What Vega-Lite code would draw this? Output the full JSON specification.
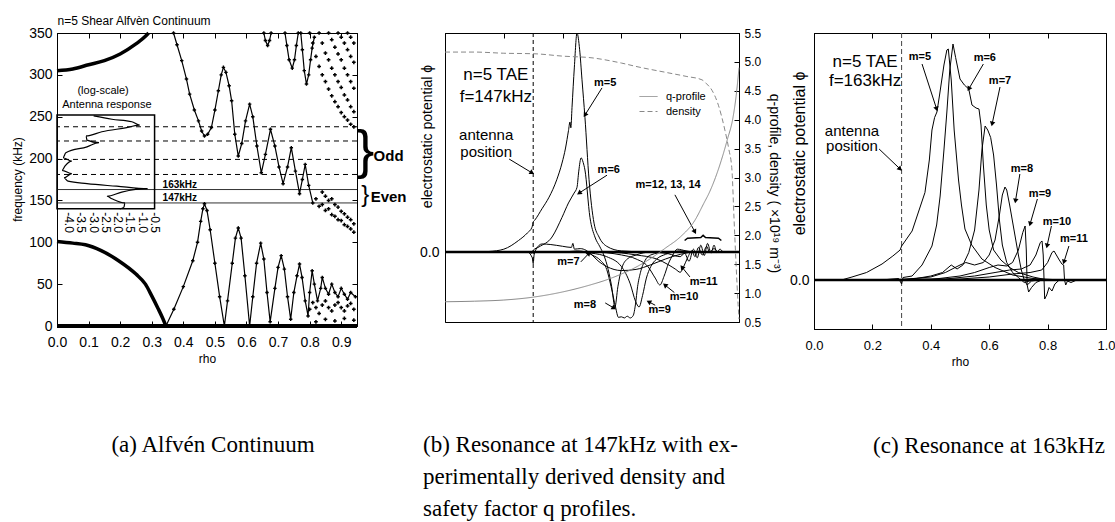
{
"$schema":"https://vega.github.io/schema/vega-lite/v6.json",
"background":"white",
"padding":{"left":10,"top":13,"right":5,"bottom":0},
"config":{
 "view":{"stroke":"black","strokeWidth":1},
 "axis":{"grid":false,"labelFlush":false,"domainColor":"black","domainWidth":1,"tickColor":"black","tickSize":-5,"labelColor":"black","titleColor":"black","labelFont":"Liberation Sans","titleFont":"Liberation Sans","titleFontWeight":"normal","labelFontSize":14,"titleFontSize":12},
 "text":{"font":"Liberation Sans","color":"black"},
 "title":{"font":"Liberation Serif","fontSize":23,"fontWeight":"normal","color":"black"}
},
"spacing":88,
"bounds":"flush",
"hconcat":[
{
 "width":300,"height":293,
 "title":{"text":"(a) Alfvén Continuum","orient":"bottom","anchor":"middle","frame":"group","dx":6,"offset":70},
 "resolve":{"axis":{"x":"independent","y":"independent"}},
 "layer":[
  {"data":{"values":[{"x":0,"y":0},{"x":0.95,"y":0}]},
   "mark":{"type":"line","color":"black","strokeWidth":4},
   "encoding":{
    "x":{"field":"x","type":"quantitative","scale":{"domain":[0,0.95],"nice":false,"zero":false},"axis":{"orient":"bottom","values":[0,0.1,0.2,0.3,0.4,0.5,0.6,0.7,0.8,0.9],"format":".1f","title":"rho","labelPadding":14,"titlePadding":4}},
    "y":{"field":"y","type":"quantitative","scale":{"domain":[0,350],"nice":false,"zero":false},"axis":{"orient":"left","values":[0,50,100,150,200,250,300,350],"title":"frequency (kHz)","labelPadding":10,"titleX":-33,"titleY":146}}}},
  {"data":{"values":[{"x":0,"y":0},{"x":0.95,"y":0}]},
   "mark":{"type":"line","opacity":0},
   "encoding":{
    "x":{"field":"x","type":"quantitative","axis":{"orient":"top","values":[0,0.1,0.2,0.3,0.4,0.5,0.6,0.7,0.8,0.9],"labels":false,"title":"n=5 Shear Alfvèn Continuum","titleX":0,"titleY":-6,"titleAnchor":"start","titleAlign":"left","titleBaseline":"bottom","titleFont":"'Liberation Sans Narrow', 'Liberation Sans'","titleFontSize":12}},
    "y":{"field":"y","type":"quantitative","axis":{"orient":"right","values":[0,50,100,150,200,250,300,350],"labels":false,"title":null}}}},
  {"data":{"values":[{"f":238},{"f":221},{"f":199},{"f":181}]},
   "mark":{"type":"rule","strokeDash":[5,4],"strokeWidth":1,"color":"black"},
   "encoding":{"y":{"field":"f","type":"quantitative","axis":null}}},
  {"data":{"values":[{"f":163},{"f":147}]},
   "mark":{"type":"rule","strokeWidth":1,"color":"#333"},
   "encoding":{"y":{"field":"f","type":"quantitative","axis":null}}},
  {"data":{"values":[{"x0":0,"x1":0.309,"y0":140,"y1":252}]},
   "mark":{"type":"rect","fillOpacity":0,"stroke":"black","strokeWidth":1.5},
   "encoding":{"x":{"field":"x0","type":"quantitative","axis":null},"x2":{"field":"x1"},"y":{"field":"y0","type":"quantitative","axis":null},"y2":{"field":"y1"}}},
  {"data":{"values":[
    {"i":1,"x":0.116,"y":251},{"i":2,"x":0.174,"y":247},{"i":3,"x":0.237,"y":244},{"i":4,"x":0.262,"y":240},{"i":5,"x":0.221,"y":237},{"i":6,"x":0.142,"y":232},{"i":7,"x":0.092,"y":227},{"i":8,"x":0.095,"y":222},{"i":9,"x":0.133,"y":219},{"i":10,"x":0.095,"y":214},{"i":11,"x":0.028,"y":207},{"i":12,"x":0.019,"y":201},{"i":13,"x":0.047,"y":197},{"i":14,"x":0.025,"y":191},{"i":15,"x":0.016,"y":186},{"i":16,"x":0.047,"y":182},{"i":17,"x":0.022,"y":177},{"i":18,"x":0.035,"y":173},{"i":19,"x":0.095,"y":170},{"i":20,"x":0.189,"y":167},{"i":21,"x":0.287,"y":164},{"i":22,"x":0.205,"y":160},{"i":23,"x":0.158,"y":155},{"i":24,"x":0.174,"y":152},{"i":25,"x":0.215,"y":147},{"i":26,"x":0.212,"y":142},{"i":27,"x":0.199,"y":140}]},
   "mark":{"type":"line","color":"black","strokeWidth":1.2,"interpolate":"monotone"},
   "encoding":{"x":{"field":"x","type":"quantitative","axis":null},"y":{"field":"y","type":"quantitative","axis":null},"order":{"field":"i","type":"quantitative"}}},
  {"data":{"values":[{"x":0.0387,"y":136,"t":"-4.0"},{"x":0.0774,"y":136,"t":"-3.5"},{"x":0.116,"y":136,"t":"-3.0"},{"x":0.155,"y":136,"t":"-2.5"},{"x":0.193,"y":136,"t":"-2.0"},{"x":0.232,"y":136,"t":"-1.5"},{"x":0.271,"y":136,"t":"-1.0"},{"x":0.309,"y":136,"t":"-0.5"}]},
   "mark":{"type":"text","angle":90,"align":"left","baseline":"middle","fontSize":12,"font":"'Liberation Sans Narrow', 'Liberation Sans'"},
   "encoding":{"x":{"field":"x","type":"quantitative","axis":null},"y":{"field":"y","type":"quantitative","axis":null},"text":{"field":"t"}}},
  {"data":{"values":[{"x":0.146,"y":281,"t":"(log-scale)"},{"x":0.158,"y":264,"t":"Antenna response"}]},
   "mark":{"type":"text","fontSize":11,"font":"'Liberation Sans Narrow', 'Liberation Sans'"},
   "encoding":{"x":{"field":"x","type":"quantitative","axis":null},"y":{"field":"y","type":"quantitative","axis":null},"text":{"field":"t"}}},
  {"data":{"values":[
    {"s":"A1","x":0,"y":101},{"s":"A1","x":0.05,"y":99},{"s":"A1","x":0.09,"y":97},{"s":"A1","x":0.14,"y":90},{"s":"A1","x":0.195,"y":78},{"s":"A1","x":0.25,"y":62},{"s":"A1","x":0.28,"y":50},{"s":"A1","x":0.3,"y":36},{"s":"A1","x":0.32,"y":21},{"s":"A1","x":0.335,"y":9},{"s":"A1","x":0.345,"y":0},
    {"s":"A2","x":0,"y":305},{"s":"A2","x":0.05,"y":307},{"s":"A2","x":0.1,"y":312},{"s":"A2","x":0.15,"y":317},{"s":"A2","x":0.2,"y":325},{"s":"A2","x":0.25,"y":337},{"s":"A2","x":0.28,"y":346},{"s":"A2","x":0.29,"y":350}]},
   "mark":{"type":"line","color":"black","strokeWidth":3.5,"interpolate":"monotone"},
   "encoding":{"x":{"field":"x","type":"quantitative","axis":null},"y":{"field":"y","type":"quantitative","axis":null},"detail":{"field":"s"}}},
  {"data":{"values":[
    {"s":"A3","x":0.369,"y":350},{"s":"A3","x":0.38,"y":336},{"s":"A3","x":0.395,"y":317},{"s":"A3","x":0.41,"y":295},{"s":"A3","x":0.42,"y":277},{"s":"A3","x":0.435,"y":258},{"s":"A3","x":0.448,"y":245},{"s":"A3","x":0.458,"y":233},{"s":"A3","x":0.467,"y":227},{"s":"A3","x":0.477,"y":229},{"s":"A3","x":0.489,"y":237},{"s":"A3","x":0.5,"y":258},{"s":"A3","x":0.511,"y":281},{"s":"A3","x":0.52,"y":300},{"s":"A3","x":0.527,"y":309},{"s":"A3","x":0.535,"y":303},{"s":"A3","x":0.545,"y":287},{"s":"A3","x":0.553,"y":269},{"s":"A3","x":0.563,"y":229},{"s":"A3","x":0.574,"y":203},{"s":"A3","x":0.585,"y":218},{"s":"A3","x":0.597,"y":245},{"s":"A3","x":0.61,"y":265},{"s":"A3","x":0.62,"y":250},{"s":"A3","x":0.633,"y":215},{"s":"A3","x":0.647,"y":183},{"s":"A3","x":0.66,"y":205},{"s":"A3","x":0.676,"y":235},{"s":"A3","x":0.69,"y":215},{"s":"A3","x":0.703,"y":190},{"s":"A3","x":0.716,"y":170},{"s":"A3","x":0.73,"y":190},{"s":"A3","x":0.742,"y":213},{"s":"A3","x":0.755,"y":185},{"s":"A3","x":0.768,"y":158},{"s":"A3","x":0.777,"y":175},{"s":"A3","x":0.786,"y":193},{"s":"A3","x":0.797,"y":168},{"s":"A3","x":0.81,"y":147},
    {"s":"A4","x":0.345,"y":0},{"s":"A4","x":0.37,"y":20},{"s":"A4","x":0.4,"y":47},{"s":"A4","x":0.43,"y":78},{"s":"A4","x":0.445,"y":100},{"s":"A4","x":0.455,"y":125},{"s":"A4","x":0.462,"y":140},{"s":"A4","x":0.467,"y":146},{"s":"A4","x":0.475,"y":138},{"s":"A4","x":0.485,"y":115},{"s":"A4","x":0.5,"y":75},{"s":"A4","x":0.515,"y":35},{"s":"A4","x":0.53,"y":0},{"s":"A4","x":0.54,"y":30},{"s":"A4","x":0.555,"y":75},{"s":"A4","x":0.565,"y":105},{"s":"A4","x":0.574,"y":117},{"s":"A4","x":0.583,"y":105},{"s":"A4","x":0.595,"y":60},{"s":"A4","x":0.61,"y":0},{"s":"A4","x":0.62,"y":35},{"s":"A4","x":0.632,"y":75},{"s":"A4","x":0.645,"y":99},{"s":"A4","x":0.655,"y":80},{"s":"A4","x":0.665,"y":40},{"s":"A4","x":0.675,"y":5},{"s":"A4","x":0.69,"y":45},{"s":"A4","x":0.7,"y":70},{"s":"A4","x":0.71,"y":84},{"s":"A4","x":0.72,"y":68},{"s":"A4","x":0.73,"y":35},{"s":"A4","x":0.74,"y":8},{"s":"A4","x":0.75,"y":40},{"s":"A4","x":0.76,"y":60},{"s":"A4","x":0.768,"y":74},{"s":"A4","x":0.776,"y":58},{"s":"A4","x":0.786,"y":30},{"s":"A4","x":0.795,"y":12},{"s":"A4","x":0.8,"y":40},{"s":"A4","x":0.808,"y":66},{"s":"A4","x":0.815,"y":50},{"s":"A4","x":0.825,"y":30},{"s":"A4","x":0.835,"y":45},{"s":"A4","x":0.84,"y":58},{"s":"A4","x":0.85,"y":45},{"s":"A4","x":0.86,"y":38},{"s":"A4","x":0.87,"y":50},{"s":"A4","x":0.88,"y":40},{"s":"A4","x":0.89,"y":35},{"s":"A4","x":0.9,"y":45},{"s":"A4","x":0.91,"y":38},{"s":"A4","x":0.92,"y":32},{"s":"A4","x":0.93,"y":40},{"s":"A4","x":0.945,"y":35},
    {"s":"U1","x":0.655,"y":350},{"s":"U1","x":0.66,"y":341},{"s":"U1","x":0.667,"y":335},{"s":"U1","x":0.673,"y":341},{"s":"U1","x":0.678,"y":350},
    {"s":"U2","x":0.722,"y":350},{"s":"U2","x":0.728,"y":335},{"s":"U2","x":0.735,"y":318},{"s":"U2","x":0.745,"y":308},{"s":"U2","x":0.752,"y":318},{"s":"U2","x":0.758,"y":335},{"s":"U2","x":0.764,"y":350},
    {"s":"U3","x":0.772,"y":350},{"s":"U3","x":0.777,"y":330},{"s":"U3","x":0.783,"y":305},{"s":"U3","x":0.79,"y":289},{"s":"U3","x":0.797,"y":300},{"s":"U3","x":0.803,"y":318},{"s":"U3","x":0.808,"y":332},{"s":"U3","x":0.815,"y":345}]},
   "mark":{"type":"line","color":"black","strokeWidth":1.2,"point":{"shape":"cross","size":12,"filled":true,"color":"black"}},
   "encoding":{"x":{"field":"x","type":"quantitative","axis":null},"y":{"field":"y","type":"quantitative","axis":null},"detail":{"field":"s"}}},
  {"data":{"values":[
    {"x":0.8,"y":350},{"x":0.81,"y":338},{"x":0.82,"y":322},{"x":0.83,"y":310},{"x":0.84,"y":300},{"x":0.85,"y":292},{"x":0.86,"y":283},{"x":0.87,"y":275},{"x":0.88,"y":268},{"x":0.89,"y":262},{"x":0.9,"y":255},{"x":0.91,"y":250},{"x":0.92,"y":246},{"x":0.93,"y":241},{"x":0.94,"y":238},
    {"x":0.83,"y":350},{"x":0.84,"y":338},{"x":0.85,"y":326},{"x":0.86,"y":318},{"x":0.87,"y":308},{"x":0.88,"y":300},{"x":0.89,"y":292},{"x":0.9,"y":285},{"x":0.91,"y":276},{"x":0.92,"y":270},{"x":0.93,"y":262},{"x":0.94,"y":256},
    {"x":0.86,"y":350},{"x":0.87,"y":342},{"x":0.88,"y":333},{"x":0.89,"y":325},{"x":0.9,"y":318},{"x":0.91,"y":308},{"x":0.92,"y":300},{"x":0.93,"y":292},{"x":0.94,"y":284},
    {"x":0.89,"y":350},{"x":0.9,"y":345},{"x":0.91,"y":338},{"x":0.92,"y":330},{"x":0.93,"y":322},{"x":0.94,"y":315},
    {"x":0.92,"y":350},{"x":0.93,"y":345},{"x":0.94,"y":338},
    {"x":0.82,"y":152},{"x":0.83,"y":143},{"x":0.84,"y":145},{"x":0.85,"y":138},{"x":0.86,"y":140},{"x":0.87,"y":133},{"x":0.88,"y":131},{"x":0.89,"y":127},{"x":0.9,"y":126},{"x":0.91,"y":121},{"x":0.92,"y":119},{"x":0.93,"y":116},{"x":0.94,"y":112},
    {"x":0.84,"y":160},{"x":0.85,"y":155},{"x":0.86,"y":150},{"x":0.87,"y":152},{"x":0.88,"y":145},{"x":0.89,"y":142},{"x":0.9,"y":137},{"x":0.91,"y":134},{"x":0.92,"y":130},{"x":0.93,"y":127},{"x":0.94,"y":122},
    {"x":0.8,"y":20},{"x":0.81,"y":28},{"x":0.82,"y":22},{"x":0.83,"y":15},{"x":0.84,"y":25},{"x":0.85,"y":30},{"x":0.86,"y":22},{"x":0.87,"y":18},{"x":0.88,"y":25},{"x":0.89,"y":28},{"x":0.9,"y":22},{"x":0.91,"y":18},{"x":0.92,"y":24},{"x":0.93,"y":27},{"x":0.94,"y":20},
    {"x":0.82,"y":5},{"x":0.85,"y":8},{"x":0.88,"y":6},{"x":0.91,"y":9},{"x":0.94,"y":7}]},
   "mark":{"type":"point","shape":"cross","size":14,"filled":true,"color":"black","opacity":1},
   "encoding":{"x":{"field":"x","type":"quantitative","axis":null},"y":{"field":"y","type":"quantitative","axis":null}}},
  {"data":{"values":[{"x":0.389,"y":168.5,"t":"163kHz"},{"x":0.389,"y":153,"t":"147kHz"}]},
   "mark":{"type":"text","fontSize":10,"fontWeight":"bold"},
   "encoding":{"x":{"field":"x","type":"quantitative","axis":null},"y":{"field":"y","type":"quantitative","axis":null},"text":{"field":"t"}}},
  {"data":{"values":[{"x":1.05,"y":203,"t":"Odd"},{"x":1.05,"y":154,"t":"Even"}]},
   "mark":{"type":"text","fontSize":15,"fontWeight":"bold"},
   "encoding":{"x":{"field":"x","type":"quantitative","axis":null},"y":{"field":"y","type":"quantitative","axis":null},"text":{"field":"t"}}},
  {"data":{"values":[{"x":0.976,"y":208,"t":"}"}]},
   "mark":{"type":"text","fontSize":54,"baseline":"middle","font":"Liberation Sans"},
   "encoding":{"x":{"field":"x","type":"quantitative","axis":null},"y":{"field":"y","type":"quantitative","axis":null},"text":{"field":"t"}}},
  {"data":{"values":[{"x":0.976,"y":156,"t":"}"}]},
   "mark":{"type":"text","fontSize":24,"baseline":"middle","font":"Liberation Sans"},
   "encoding":{"x":{"field":"x","type":"quantitative","axis":null},"y":{"field":"y","type":"quantitative","axis":null},"text":{"field":"t"}}}
 ]
},
{
 "spacing":75,
 "bounds":"flush",
 "hconcat":[
 {
  "width":294,"height":289,
  "title":{"text":["(b) Resonance at 147kHz with ex-","perimentally derived density and","safety factor q profiles."],"orient":"bottom","anchor":"start","frame":"group","dx":-22,"offset":106,"lineHeight":32},
  "resolve":{"scale":{"y":"independent"},"axis":{"x":"independent","y":"independent"}},
  "layer":[
   {"resolve":{"axis":{"y":"independent"}},
    "layer":[
    {"data":{"values":[{"x":0,"y":0},{"x":1,"y":0}]},
     "mark":{"type":"line","color":"black","strokeWidth":2.5},
     "encoding":{
      "x":{"field":"x","type":"quantitative","scale":{"domain":[0,1],"nice":false,"zero":false},"axis":{"orient":"bottom","values":[0,0.2,0.4,0.6,0.8,1],"format":".1f","title":"rho","labelPadding":20,"labelFontSize":13,"titlePadding":14}},
      "y":{"field":"y","type":"quantitative","scale":{"domain":[-1.21,3.79],"nice":false,"zero":false},"axis":{"orient":"left","values":[0],"format":".1f","title":"electrostatic potential ϕ","labelPadding":11,"labelFontSize":14,"titleFontSize":14,"titleX":-11,"titleY":103}}}},
    {"data":{"values":[{"x":0.3}]},
     "mark":{"type":"rule","strokeDash":[4,3],"strokeWidth":1,"color":"black"},
     "encoding":{"x":{"field":"x","type":"quantitative","axis":null}}},
    {"data":{"values":[
      {"m":"5","x":0,"y":0},{"m":"5","x":0.1,"y":0},{"m":"5","x":0.15,"y":0.01},{"m":"5","x":0.2,"y":0.05},{"m":"5","x":0.25,"y":0.2},{"m":"5","x":0.28,"y":0.33},{"m":"5","x":0.296,"y":0.43},{"m":"5","x":0.3,"y":0.52},{"m":"5","x":0.305,"y":0.55},{"m":"5","x":0.33,"y":0.75},{"m":"5","x":0.354,"y":0.95},{"m":"5","x":0.38,"y":1.25},{"m":"5","x":0.398,"y":1.54},{"m":"5","x":0.41,"y":1.8},{"m":"5","x":0.42,"y":2.1},{"m":"5","x":0.425,"y":2.25},{"m":"5","x":0.428,"y":2.15},{"m":"5","x":0.432,"y":2.5},{"m":"5","x":0.44,"y":3.2},{"m":"5","x":0.449,"y":3.79},{"m":"5","x":0.458,"y":3.5},{"m":"5","x":0.466,"y":2.98},{"m":"5","x":0.476,"y":2.33},{"m":"5","x":0.49,"y":1.25},{"m":"5","x":0.507,"y":0.5},{"m":"5","x":0.524,"y":0.26},{"m":"5","x":0.55,"y":0.1},{"m":"5","x":0.6,"y":0.02},{"m":"5","x":0.7,"y":0},{"m":"5","x":0.95,"y":0},
      {"m":"6","x":0,"y":0},{"m":"6","x":0.28,"y":0},{"m":"6","x":0.295,"y":-0.02},{"m":"6","x":0.3,"y":0.03},{"m":"6","x":0.32,"y":0.09},{"m":"6","x":0.364,"y":0.26},{"m":"6","x":0.398,"y":0.6},{"m":"6","x":0.42,"y":0.85},{"m":"6","x":0.439,"y":1.02},{"m":"6","x":0.449,"y":1.12},{"m":"6","x":0.455,"y":1.4},{"m":"6","x":0.463,"y":1.63},{"m":"6","x":0.47,"y":1.55},{"m":"6","x":0.476,"y":1.42},{"m":"6","x":0.493,"y":0.6},{"m":"6","x":0.51,"y":0.26},{"m":"6","x":0.527,"y":0.09},{"m":"6","x":0.54,"y":-0.05},{"m":"6","x":0.555,"y":-0.3},{"m":"6","x":0.567,"y":-0.6},{"m":"6","x":0.578,"y":-0.95},{"m":"6","x":0.588,"y":-0.6},{"m":"6","x":0.6,"y":-0.3},{"m":"6","x":0.62,"y":-0.12},{"m":"6","x":0.65,"y":-0.05},{"m":"6","x":0.7,"y":0},{"m":"6","x":0.95,"y":0},
      {"m":"7","x":0,"y":0},{"m":"7","x":0.28,"y":0},{"m":"7","x":0.297,"y":-0.1},{"m":"7","x":0.3,"y":-0.2},{"m":"7","x":0.303,"y":-0.05},{"m":"7","x":0.31,"y":0.05},{"m":"7","x":0.33,"y":0.14},{"m":"7","x":0.36,"y":0.13},{"m":"7","x":0.4,"y":0.1},{"m":"7","x":0.43,"y":0.08},{"m":"7","x":0.435,"y":0.15},{"m":"7","x":0.44,"y":0.05},{"m":"7","x":0.46,"y":0.06},{"m":"7","x":0.48,"y":0.03},{"m":"7","x":0.5,"y":-0.05},{"m":"7","x":0.52,"y":-0.15},{"m":"7","x":0.55,"y":-0.25},{"m":"7","x":0.6,"y":-0.32},{"m":"7","x":0.65,"y":-0.3},{"m":"7","x":0.7,"y":-0.22},{"m":"7","x":0.75,"y":-0.12},{"m":"7","x":0.8,"y":-0.04},{"m":"7","x":0.85,"y":0},{"m":"7","x":0.95,"y":0},
      {"m":"8","x":0,"y":0},{"m":"8","x":0.4,"y":0},{"m":"8","x":0.45,"y":0.02},{"m":"8","x":0.48,"y":0},{"m":"8","x":0.5,"y":-0.05},{"m":"8","x":0.53,"y":-0.15},{"m":"8","x":0.55,"y":-0.3},{"m":"8","x":0.565,"y":-0.6},{"m":"8","x":0.58,"y":-0.95},{"m":"8","x":0.59,"y":-1.13},{"m":"8","x":0.6,"y":-1.12},{"m":"8","x":0.61,"y":-1.14},{"m":"8","x":0.62,"y":-1.11},{"m":"8","x":0.63,"y":-1.14},{"m":"8","x":0.64,"y":-1.1},{"m":"8","x":0.648,"y":-0.9},{"m":"8","x":0.655,"y":-0.6},{"m":"8","x":0.665,"y":-0.35},{"m":"8","x":0.68,"y":-0.15},{"m":"8","x":0.7,"y":-0.05},{"m":"8","x":0.75,"y":0},{"m":"8","x":0.95,"y":0},
      {"m":"9","x":0,"y":0},{"m":"9","x":0.45,"y":0},{"m":"9","x":0.5,"y":-0.02},{"m":"9","x":0.55,"y":-0.08},{"m":"9","x":0.6,"y":-0.25},{"m":"9","x":0.63,"y":-0.55},{"m":"9","x":0.648,"y":-0.85},{"m":"9","x":0.66,"y":-0.95},{"m":"9","x":0.672,"y":-0.75},{"m":"9","x":0.685,"y":-0.45},{"m":"9","x":0.7,"y":-0.25},{"m":"9","x":0.72,"y":-0.12},{"m":"9","x":0.75,"y":-0.04},{"m":"9","x":0.8,"y":0.02},{"m":"9","x":0.85,"y":0},{"m":"9","x":0.95,"y":0},
      {"m":"10","x":0,"y":0},{"m":"10","x":0.5,"y":0},{"m":"10","x":0.6,"y":-0.05},{"m":"10","x":0.65,"y":-0.12},{"m":"10","x":0.69,"y":-0.25},{"m":"10","x":0.715,"y":-0.45},{"m":"10","x":0.731,"y":-0.57},{"m":"10","x":0.745,"y":-0.42},{"m":"10","x":0.76,"y":-0.2},{"m":"10","x":0.775,"y":-0.05},{"m":"10","x":0.79,"y":0.05},{"m":"10","x":0.82,"y":0.02},{"m":"10","x":0.85,"y":0},{"m":"10","x":0.95,"y":0},
      {"m":"11","x":0,"y":0},{"m":"11","x":0.55,"y":0},{"m":"11","x":0.65,"y":-0.05},{"m":"11","x":0.72,"y":-0.12},{"m":"11","x":0.76,"y":-0.22},{"m":"11","x":0.785,"y":-0.3},{"m":"11","x":0.8,"y":-0.35},{"m":"11","x":0.812,"y":-0.25},{"m":"11","x":0.825,"y":-0.1},{"m":"11","x":0.84,"y":0.02},{"m":"11","x":0.85,"y":-0.08},{"m":"11","x":0.862,"y":0.08},{"m":"11","x":0.875,"y":-0.05},{"m":"11","x":0.89,"y":0.1},{"m":"11","x":0.9,"y":0},{"m":"11","x":0.915,"y":0.06},{"m":"11","x":0.93,"y":0},{"m":"11","x":0.95,"y":0},
      {"m":"12","x":0.7,"y":0},{"m":"12","x":0.76,"y":-0.03},{"m":"12","x":0.8,"y":-0.08},{"m":"12","x":0.815,"y":-0.02},{"m":"12","x":0.83,"y":-0.16},{"m":"12","x":0.845,"y":0.05},{"m":"12","x":0.858,"y":-0.1},{"m":"12","x":0.87,"y":0.12},{"m":"12","x":0.882,"y":-0.06},{"m":"12","x":0.893,"y":0.15},{"m":"12","x":0.905,"y":-0.02},{"m":"12","x":0.915,"y":0.12},{"m":"12","x":0.925,"y":-0.01},{"m":"12","x":0.935,"y":0.05},{"m":"12","x":0.945,"y":0}]},
     "mark":{"type":"line","color":"black","strokeWidth":1,"interpolate":"monotone"},
     "encoding":{"x":{"field":"x","type":"quantitative","axis":null},"y":{"field":"y","type":"quantitative","axis":null},"detail":{"field":"m"}}},
    {"data":{"values":[{"x":0.815,"y":0.2},{"x":0.825,"y":0.24},{"x":0.87,"y":0.25},{"x":0.878,"y":0.29},{"x":0.886,"y":0.25},{"x":0.93,"y":0.24},{"x":0.94,"y":0.2}]},
     "mark":{"type":"line","color":"black","strokeWidth":1.5},
     "encoding":{"x":{"field":"x","type":"quantitative","axis":null},"y":{"field":"y","type":"quantitative","axis":null}}},
    {"data":{"values":[{"x":0.173,"y":3.06,"t":"n=5 TAE"},{"x":0.173,"y":2.68,"t":"f=147kHz"}]},
     "mark":{"type":"text","fontSize":17},
     "encoding":{"x":{"field":"x","type":"quantitative","axis":null},"y":{"field":"y","type":"quantitative","axis":null},"text":{"field":"t"}}},
    {"data":{"values":[{"x":0.14,"y":2.02,"t":"antenna"},{"x":0.14,"y":1.73,"t":"position"}]},
     "mark":{"type":"text","fontSize":15},
     "encoding":{"x":{"field":"x","type":"quantitative","axis":null},"y":{"field":"y","type":"quantitative","axis":null},"text":{"field":"t"}}},
    {"data":{"values":[{"x":0.545,"y":2.92,"t":"m=5"},{"x":0.557,"y":1.42,"t":"m=6"},{"x":0.42,"y":-0.17,"t":"m=7"},{"x":0.476,"y":-0.92,"t":"m=8"},{"x":0.73,"y":-1.0,"t":"m=9"},{"x":0.813,"y":-0.78,"t":"m=10"},{"x":0.88,"y":-0.52,"t":"m=11"},{"x":0.759,"y":1.16,"t":"m=12, 13, 14"}]},
     "mark":{"type":"text","fontSize":11,"fontWeight":"bold"},
     "encoding":{"x":{"field":"x","type":"quantitative","axis":null},"y":{"field":"y","type":"quantitative","axis":null},"text":{"field":"t"}}},
    {"data":{"values":[{"x0":0.218,"y0":1.61,"x1":0.296,"y1":1.37,"ang":121},{"x0":0.534,"y0":2.84,"x1":0.476,"y1":2.37,"ang":-148},{"x0":0.551,"y0":1.33,"x1":0.456,"y1":1.02,"ang":-123},{"x0":0.462,"y0":-0.17,"x1":0.49,"y1":-0.02,"ang":46},{"x0":0.545,"y0":-0.88,"x1":0.575,"y1":-0.97,"ang":121},{"x0":0.715,"y0":-0.92,"x1":0.693,"y1":-0.86,"ang":-62},{"x0":0.78,"y0":-0.7,"x1":0.748,"y1":-0.57,"ang":-51},{"x0":0.833,"y0":-0.43,"x1":0.806,"y1":-0.26,"ang":-39},{"x0":0.782,"y0":0.99,"x1":0.85,"y1":0.35,"ang":152}]},
     "layer":[
      {"mark":{"type":"rule","color":"black","strokeWidth":1},
       "encoding":{"x":{"field":"x0","type":"quantitative","axis":null},"y":{"field":"y0","type":"quantitative","axis":null},"x2":{"field":"x1"},"y2":{"field":"y1"}}},
      {"mark":{"type":"point","shape":"triangle-up","size":30,"filled":true,"color":"black","opacity":1},
       "encoding":{"x":{"field":"x1","type":"quantitative","axis":null},"y":{"field":"y1","type":"quantitative","axis":null},"angle":{"field":"ang","type":"quantitative","scale":null}}}
     ]}
   ]},
   {"data":{"values":[
     {"series":"q-profile","x":0,"y":0.85},{"series":"q-profile","x":0.1,"y":0.86},{"series":"q-profile","x":0.2,"y":0.88},{"series":"q-profile","x":0.3,"y":0.93},{"series":"q-profile","x":0.4,"y":1.02},{"series":"q-profile","x":0.5,"y":1.15},{"series":"q-profile","x":0.55,"y":1.23},{"series":"q-profile","x":0.6,"y":1.33},{"series":"q-profile","x":0.65,"y":1.45},{"series":"q-profile","x":0.7,"y":1.6},{"series":"q-profile","x":0.75,"y":1.78},{"series":"q-profile","x":0.8,"y":1.97},{"series":"q-profile","x":0.85,"y":2.26},{"series":"q-profile","x":0.88,"y":2.55},{"series":"q-profile","x":0.9,"y":2.75},{"series":"q-profile","x":0.92,"y":3.0},{"series":"q-profile","x":0.94,"y":3.3},{"series":"q-profile","x":0.96,"y":3.65},{"series":"q-profile","x":0.98,"y":4.05},{"series":"q-profile","x":0.99,"y":4.4},{"series":"q-profile","x":1.0,"y":4.9},
     {"series":"density","x":0,"y":5.17},{"series":"density","x":0.1,"y":5.17},{"series":"density","x":0.2,"y":5.15},{"series":"density","x":0.306,"y":5.14},{"series":"density","x":0.4,"y":5.1},{"series":"density","x":0.5,"y":5.07},{"series":"density","x":0.6,"y":4.98},{"series":"density","x":0.66,"y":4.91},{"series":"density","x":0.75,"y":4.82},{"series":"density","x":0.82,"y":4.75},{"series":"density","x":0.874,"y":4.69},{"series":"density","x":0.89,"y":4.62},{"series":"density","x":0.908,"y":4.51},{"series":"density","x":0.93,"y":4.25},{"series":"density","x":0.952,"y":3.82},{"series":"density","x":0.965,"y":3.5},{"series":"density","x":0.976,"y":3.13},{"series":"density","x":0.983,"y":2.3},{"series":"density","x":0.99,"y":1.5},{"series":"density","x":0.997,"y":0.8},{"series":"density","x":1.0,"y":0.55}]},
    "mark":{"type":"line","color":"#888","strokeWidth":1,"interpolate":"monotone"},
    "encoding":{
     "x":{"field":"x","type":"quantitative","axis":{"orient":"top","values":[0,0.2,0.4,0.6,0.8,1],"labels":false,"title":null}},
     "y":{"field":"y","type":"quantitative","scale":{"domain":[0.5,5.5],"nice":false,"zero":false},"axis":{"orient":"right","values":[0.5,1,1.5,2,2.5,3,3.5,4,4.5,5,5.5],"format":".1f","title":"q-profile, density ( ×10¹⁹ m⁻³)","labelFont":"'Liberation Sans Narrow', 'Liberation Sans'","labelFontSize":12,"labelPadding":10,"titleFontSize":14,"titleX":27,"titleY":150}},
     "strokeDash":{"field":"series","type":"nominal","scale":{"domain":["q-profile","density"],"range":[[1,0],[5,3]]},
       "legend":{"orient":"none","legendX":582,"legendY":54,"title":null,"symbolType":"stroke","symbolSize":324,"symbolStrokeColor":"#888","symbolStrokeWidth":1,"labelFont":"'Liberation Sans Narrow', 'Liberation Sans'","labelFontSize":11,"labelOffset":8,"rowPadding":-3,"padding":0}},
     "detail":{"field":"series"}}}
  ]
 },
 {
  "width":292,"height":296,
  "title":{"text":"(c) Resonance at 163kHz","orient":"bottom","anchor":"middle","frame":"group","dx":29,"offset":68},
  "resolve":{"axis":{"x":"independent","y":"independent"}},
  "layer":[
   {"data":{"values":[{"x":0,"y":0},{"x":1,"y":0}]},
    "mark":{"type":"line","color":"black","strokeWidth":2.5},
    "encoding":{
     "x":{"field":"x","type":"quantitative","scale":{"domain":[0,1],"nice":false,"zero":false},"axis":{"orient":"bottom","values":[0,0.2,0.4,0.6,0.8,1],"format":".1f","title":"rho","labelPadding":15,"labelFontSize":13,"titlePadding":4}},
     "y":{"field":"y","type":"quantitative","scale":{"domain":[-0.98,4.94],"nice":false,"zero":false},"axis":{"orient":"left","values":[0],"format":".1f","title":"electrostatic potential ϕ","labelPadding":10,"labelFontSize":14,"titleFontSize":16,"titleX":-7,"titleY":120}}}},
   {"data":{"values":[{"x":0.3}]},
    "mark":{"type":"rule","strokeDash":[5,3],"strokeWidth":1,"color":"#444"},
    "encoding":{"x":{"field":"x","type":"quantitative","axis":{"orient":"top","values":[0,0.2,0.4,0.6,0.8,1],"labels":false,"title":null}}}},
   {"data":{"values":[
     {"m":"5","x":0,"y":0},{"m":"5","x":0.1,"y":0.01},{"m":"5","x":0.13,"y":0.06},{"m":"5","x":0.18,"y":0.15},{"m":"5","x":0.233,"y":0.32},{"m":"5","x":0.27,"y":0.48},{"m":"5","x":0.295,"y":0.6},{"m":"5","x":0.3,"y":0.68},{"m":"5","x":0.305,"y":0.72},{"m":"5","x":0.336,"y":0.98},{"m":"5","x":0.36,"y":1.4},{"m":"5","x":0.38,"y":1.75},{"m":"5","x":0.395,"y":2.4},{"m":"5","x":0.404,"y":3.0},{"m":"5","x":0.413,"y":3.25},{"m":"5","x":0.421,"y":3.36},{"m":"5","x":0.43,"y":3.7},{"m":"5","x":0.445,"y":4.3},{"m":"5","x":0.455,"y":4.6},{"m":"5","x":0.46,"y":4.62},{"m":"5","x":0.47,"y":4.0},{"m":"5","x":0.48,"y":3.0},{"m":"5","x":0.495,"y":2.0},{"m":"5","x":0.505,"y":1.5},{"m":"5","x":0.517,"y":1.02},{"m":"5","x":0.54,"y":0.7},{"m":"5","x":0.575,"y":0.42},{"m":"5","x":0.62,"y":0.25},{"m":"5","x":0.68,"y":0.1},{"m":"5","x":0.75,"y":0.03},{"m":"5","x":0.85,"y":0},{"m":"5","x":1,"y":0},
     {"m":"6","x":0,"y":0},{"m":"6","x":0.25,"y":0.01},{"m":"6","x":0.29,"y":0.03},{"m":"6","x":0.3,"y":-0.08},{"m":"6","x":0.305,"y":0.05},{"m":"6","x":0.336,"y":0.08},{"m":"6","x":0.37,"y":0.3},{"m":"6","x":0.404,"y":0.68},{"m":"6","x":0.42,"y":1.1},{"m":"6","x":0.432,"y":1.68},{"m":"6","x":0.445,"y":2.6},{"m":"6","x":0.455,"y":3.36},{"m":"6","x":0.465,"y":4.2},{"m":"6","x":0.476,"y":4.72},{"m":"6","x":0.485,"y":4.45},{"m":"6","x":0.5,"y":4.02},{"m":"6","x":0.515,"y":3.9},{"m":"6","x":0.53,"y":3.82},{"m":"6","x":0.541,"y":3.5},{"m":"6","x":0.555,"y":3.44},{"m":"6","x":0.565,"y":3.42},{"m":"6","x":0.572,"y":3.1},{"m":"6","x":0.58,"y":2.3},{"m":"6","x":0.59,"y":1.5},{"m":"6","x":0.6,"y":1.0},{"m":"6","x":0.615,"y":0.6},{"m":"6","x":0.64,"y":0.4},{"m":"6","x":0.67,"y":0.25},{"m":"6","x":0.7,"y":0.15},{"m":"6","x":0.75,"y":0.06},{"m":"6","x":0.8,"y":0},{"m":"6","x":1,"y":0},
     {"m":"7","x":0,"y":0},{"m":"7","x":0.3,"y":0},{"m":"7","x":0.35,"y":0.03},{"m":"7","x":0.4,"y":0.08},{"m":"7","x":0.44,"y":0.15},{"m":"7","x":0.47,"y":0.3},{"m":"7","x":0.49,"y":0.22},{"m":"7","x":0.51,"y":0.3},{"m":"7","x":0.53,"y":0.55},{"m":"7","x":0.55,"y":1.0},{"m":"7","x":0.565,"y":1.8},{"m":"7","x":0.575,"y":2.6},{"m":"7","x":0.586,"y":3.08},{"m":"7","x":0.595,"y":3.0},{"m":"7","x":0.605,"y":2.85},{"m":"7","x":0.615,"y":2.5},{"m":"7","x":0.625,"y":1.9},{"m":"7","x":0.635,"y":1.2},{"m":"7","x":0.645,"y":0.7},{"m":"7","x":0.66,"y":0.35},{"m":"7","x":0.68,"y":0.15},{"m":"7","x":0.7,"y":0.05},{"m":"7","x":0.72,"y":-0.05},{"m":"7","x":0.75,"y":0},{"m":"7","x":1,"y":0},
     {"m":"8","x":0,"y":0},{"m":"8","x":0.3,"y":0.01},{"m":"8","x":0.4,"y":0.06},{"m":"8","x":0.45,"y":0.15},{"m":"8","x":0.5,"y":0.3},{"m":"8","x":0.52,"y":0.35},{"m":"8","x":0.55,"y":0.3},{"m":"8","x":0.58,"y":0.35},{"m":"8","x":0.6,"y":0.5},{"m":"8","x":0.62,"y":0.8},{"m":"8","x":0.635,"y":1.3},{"m":"8","x":0.645,"y":1.7},{"m":"8","x":0.654,"y":1.86},{"m":"8","x":0.66,"y":1.8},{"m":"8","x":0.67,"y":1.5},{"m":"8","x":0.685,"y":1.0},{"m":"8","x":0.7,"y":0.5},{"m":"8","x":0.71,"y":0.2},{"m":"8","x":0.72,"y":0},{"m":"8","x":0.73,"y":-0.1},{"m":"8","x":0.745,"y":-0.02},{"m":"8","x":0.77,"y":0},{"m":"8","x":1,"y":0},
     {"m":"9","x":0,"y":0},{"m":"9","x":0.4,"y":0.01},{"m":"9","x":0.5,"y":0.08},{"m":"9","x":0.55,"y":0.15},{"m":"9","x":0.6,"y":0.25},{"m":"9","x":0.63,"y":0.3},{"m":"9","x":0.66,"y":0.28},{"m":"9","x":0.68,"y":0.35},{"m":"9","x":0.7,"y":0.6},{"m":"9","x":0.715,"y":0.95},{"m":"9","x":0.723,"y":1.08},{"m":"9","x":0.727,"y":0.6},{"m":"9","x":0.73,"y":-0.1},{"m":"9","x":0.735,"y":-0.24},{"m":"9","x":0.745,"y":-0.15},{"m":"9","x":0.76,"y":-0.05},{"m":"9","x":0.78,"y":0},{"m":"9","x":1,"y":0},
     {"m":"10","x":0,"y":0},{"m":"10","x":0.45,"y":0.02},{"m":"10","x":0.55,"y":0.08},{"m":"10","x":0.62,"y":0.15},{"m":"10","x":0.67,"y":0.2},{"m":"10","x":0.71,"y":0.22},{"m":"10","x":0.74,"y":0.3},{"m":"10","x":0.76,"y":0.5},{"m":"10","x":0.775,"y":0.75},{"m":"10","x":0.781,"y":0.78},{"m":"10","x":0.785,"y":0.5},{"m":"10","x":0.79,"y":-0.38},{"m":"10","x":0.797,"y":-0.3},{"m":"10","x":0.805,"y":-0.15},{"m":"10","x":0.815,"y":-0.22},{"m":"10","x":0.825,"y":-0.08},{"m":"10","x":0.84,"y":0},{"m":"10","x":1,"y":0},
     {"m":"11","x":0,"y":0},{"m":"11","x":0.5,"y":0.02},{"m":"11","x":0.6,"y":0.06},{"m":"11","x":0.68,"y":0.12},{"m":"11","x":0.74,"y":0.15},{"m":"11","x":0.78,"y":0.2},{"m":"11","x":0.8,"y":0.35},{"m":"11","x":0.815,"y":0.55},{"m":"11","x":0.822,"y":0.58},{"m":"11","x":0.83,"y":0.5},{"m":"11","x":0.84,"y":0.4},{"m":"11","x":0.849,"y":0.32},{"m":"11","x":0.855,"y":0.3},{"m":"11","x":0.858,"y":0.0},{"m":"11","x":0.862,"y":-0.1},{"m":"11","x":0.868,"y":-0.02},{"m":"11","x":0.88,"y":-0.05},{"m":"11","x":0.9,"y":0},{"m":"11","x":1,"y":0}]},
    "mark":{"type":"line","color":"black","strokeWidth":1},
    "encoding":{"x":{"field":"x","type":"quantitative","axis":null},"y":{"field":"y","type":"quantitative","axis":null},"detail":{"field":"m"}}},
   {"data":{"values":[{"x":0.175,"y":4.36,"t":"n=5 TAE"},{"x":0.175,"y":3.98,"t":"f=163kHz"}]},
    "mark":{"type":"text","fontSize":17},
    "encoding":{"x":{"field":"x","type":"quantitative","axis":null},"y":{"field":"y","type":"quantitative","axis":null},"text":{"field":"t"}}},
   {"data":{"values":[{"x":0.13,"y":2.98,"t":"antenna"},{"x":0.13,"y":2.68,"t":"position"}]},
    "mark":{"type":"text","fontSize":15},
    "encoding":{"x":{"field":"x","type":"quantitative","axis":null},"y":{"field":"y","type":"quantitative","axis":null},"text":{"field":"t"}}},
   {"data":{"values":[{"x":0.363,"y":4.46,"t":"m=5"},{"x":0.585,"y":4.44,"t":"m=6"},{"x":0.637,"y":3.98,"t":"m=7"},{"x":0.712,"y":2.22,"t":"m=8"},{"x":0.774,"y":1.72,"t":"m=9"},{"x":0.832,"y":1.16,"t":"m=10"},{"x":0.89,"y":0.82,"t":"m=11"}]},
    "mark":{"type":"text","fontSize":11,"fontWeight":"bold"},
    "encoding":{"x":{"field":"x","type":"quantitative","axis":null},"y":{"field":"y","type":"quantitative","axis":null},"text":{"field":"t"}}},
   {"data":{"values":[{"x0":0.223,"y0":2.62,"x1":0.295,"y1":2.22,"ang":134},{"x0":0.37,"y0":4.32,"x1":0.42,"y1":3.42,"ang":162},{"x0":0.58,"y0":4.32,"x1":0.53,"y1":3.82,"ang":-150},{"x0":0.637,"y0":3.86,"x1":0.61,"y1":3.12,"ang":-168},{"x0":0.705,"y0":2.12,"x1":0.69,"y1":1.58,"ang":-171},{"x0":0.765,"y0":1.62,"x1":0.74,"y1":1.12,"ang":-164},{"x0":0.813,"y0":1.08,"x1":0.798,"y1":0.68,"ang":-168},{"x0":0.873,"y0":0.68,"x1":0.856,"y1":0.36,"ang":-163}]},
    "layer":[
     {"mark":{"type":"rule","color":"black","strokeWidth":1},
      "encoding":{"x":{"field":"x0","type":"quantitative","axis":null},"y":{"field":"y0","type":"quantitative","axis":null},"x2":{"field":"x1"},"y2":{"field":"y1"}}},
     {"mark":{"type":"point","shape":"triangle-up","size":30,"filled":true,"color":"black","opacity":1},
      "encoding":{"x":{"field":"x1","type":"quantitative","axis":null},"y":{"field":"y1","type":"quantitative","axis":null},"angle":{"field":"ang","type":"quantitative","scale":null}}}
    ]}
  ]
 }
 ]
}
]
}
